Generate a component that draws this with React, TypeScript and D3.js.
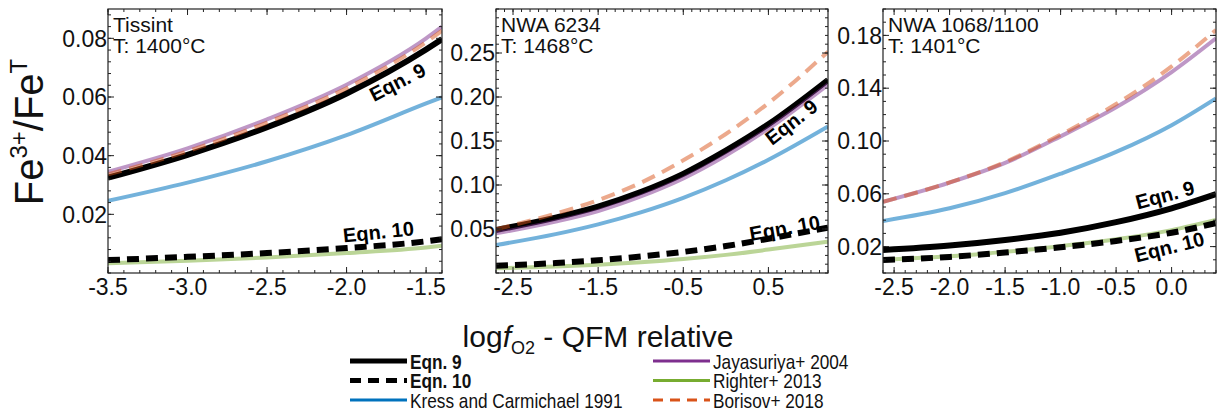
import React from 'react';
import * as d3 from 'd3';

// ---------- data ----------
const panelNames = ['Tissint', 'NWA 6234', 'NWA 1068/1100'];
const panelTemps = ['T: 1400°C', 'T: 1468°C', 'T: 1401°C'];

const xDomains = [[-3.5, -1.4], [-2.7, 1.2], [-2.6, 0.4]];
const yDomains = [[0, 0.09], [0, 0.3], [0, 0.2]];
const xTickLabels = [
  [-3.5, -3.0, -2.5, -2.0, -1.5],
  [-2.5, -1.5, -0.5, 0.5],
  [-2.5, -2.0, -1.5, -1.0, -0.5, 0.0],
];
const yTickLabels = [
  [0.02, 0.04, 0.06, 0.08],
  [0.05, 0.1, 0.15, 0.2, 0.25],
  [0.02, 0.06, 0.1, 0.14, 0.18],
];
const yMinorStep = [0.004, 0.01, 0.01];
const xMinorStep = [0.1, 0.1, 0.1];

// Tissint
const xTissint = [-3.5, -3.0, -2.5, -2.0, -1.5, -1.4];
const eqn9Tissint = [0.0325, 0.0403, 0.0497, 0.0612, 0.0762, 0.0797];
const eqn10Tissint = [0.0044, 0.0055, 0.0068, 0.0085, 0.0108, 0.0115];
const kressTissint = [0.0246, 0.0308, 0.0381, 0.047, 0.0578, 0.0599];
const jayaTissint = [0.0345, 0.0425, 0.0524, 0.0642, 0.08, 0.084];
const righterTissint = [0.0033, 0.0042, 0.0053, 0.0068, 0.0087, 0.0093];
const borisovTissint = [0.0336, 0.0415, 0.0513, 0.063, 0.0787, 0.0826];

// NWA 6234
const xNwa6234 = [-2.7, -2.0, -1.5, -1.0, -0.5, 0.0, 0.5, 1.2];
const eqn9Nwa6234 = [0.0489, 0.063, 0.0755, 0.092, 0.1127, 0.139, 0.169, 0.2193];
const eqn10Nwa6234 = [0.0083, 0.0113, 0.0145, 0.0187, 0.024, 0.0306, 0.039, 0.0515];
const kressNwa6234 = [0.0318, 0.0442, 0.0553, 0.0689, 0.0854, 0.1054, 0.1287, 0.1665];
const jayaNwa6234 = [0.045, 0.0585, 0.0705, 0.087, 0.1075, 0.1335, 0.164, 0.214];
const righterNwa6234 = [0.0053, 0.0073, 0.0093, 0.0121, 0.0158, 0.0206, 0.0266, 0.0356];
const borisovNwa6234 = [0.0496, 0.0675, 0.0828, 0.1025, 0.128, 0.158, 0.193, 0.2515];

// NWA 1068/1100
const xNwa1068 = [-2.6, -2.0, -1.5, -1.0, -0.5, 0.0, 0.4];
const eqn9Nwa1068 = [0.0174, 0.0208, 0.025, 0.0305, 0.0385, 0.049, 0.0598];
const eqn10Nwa1068 = [0.0098, 0.0122, 0.0155, 0.0195, 0.0243, 0.0305, 0.0378];
const kressNwa1068 = [0.0394, 0.049, 0.0605, 0.0752, 0.0917, 0.112, 0.1323];
const jayaNwa1068 = [0.054, 0.0685, 0.0834, 0.1035, 0.1255, 0.1522, 0.1778];
const righterNwa1068 = [0.01, 0.0126, 0.016, 0.0203, 0.0255, 0.0325, 0.0402];
const borisovNwa1068 = [0.054, 0.0686, 0.084, 0.1048, 0.128, 0.1565, 0.1841];

// label anchors (data coords) and angles for in-plot "Eqn." labels
const eqn9LabelAt = [[-1.68, 0.0651, -27], [0.77, 0.1716, -38], [-0.06, 0.0591, -15]];
const eqn10LabelAt = [[-1.8, 0.014, -6], [0.69, 0.0511, -10], [-0.02, 0.0197, -14]];

const seriesKeys = ['kress', 'righter', 'eqn9', 'jaya', 'borisov', 'eqn10'];
const legendLeft = [
  { key: 'eqn9', label: 'Eqn. 9', bold: true },
  { key: 'eqn10', label: 'Eqn. 10', bold: true },
  { key: 'kress', label: 'Kress and Carmichael 1991', bold: false },
];
const legendRight = [
  { key: 'jaya', label: 'Jayasuriya+ 2004', bold: false },
  { key: 'righter', label: 'Righter+ 2013', bold: false },
  { key: 'borisov', label: 'Borisov+ 2018', bold: false },
];

const panelsData = [
  { x: xTissint, eqn9: eqn9Tissint, eqn10: eqn10Tissint, kress: kressTissint, jaya: jayaTissint, righter: righterTissint, borisov: borisovTissint },
  { x: xNwa6234, eqn9: eqn9Nwa6234, eqn10: eqn10Nwa6234, kress: kressNwa6234, jaya: jayaNwa6234, righter: righterNwa6234, borisov: borisovNwa6234 },
  { x: xNwa1068, eqn9: eqn9Nwa1068, eqn10: eqn10Nwa1068, kress: kressNwa1068, jaya: jayaNwa1068, righter: righterNwa1068, borisov: borisovNwa1068 },
];

// ---------- styles ----------
const styles: Record<string, any> = {
  eqn9: { color: '#000', width: 6, dash: null, opacity: 1, lw: 5, ldash: null },
  eqn10: { color: '#000', width: 6, dash: '12 7', opacity: 1, lw: 5, ldash: '11 7' },
  kress: { color: '#0072BD', width: 4, dash: null, opacity: 0.55, lw: 3, ldash: null },
  jaya: { color: '#7E2F8E', width: 4, dash: null, opacity: 0.5, lw: 3, ldash: null },
  righter: { color: '#77AC30', width: 4, dash: null, opacity: 0.5, lw: 3, ldash: null },
  borisov: { color: '#D95319', width: 4, dash: '14 8', opacity: 0.5, lw: 3, ldash: '10 7' },
};

const frames = [
  { left: 108, right: 442 },
  { left: 496, right: 828 },
  { left: 883, right: 1216 },
];
const TOP = 9;
const BOTTOM = 273;
const FONT = 'Liberation Sans, Arial, Helvetica, sans-serif';
const LEGEND_SIZE = 21;
const NARROW_FACTOR = 0.82;

let measureCtx: CanvasRenderingContext2D | null = null;
function narrowWidth(label: string, bold: boolean) {
  if (!measureCtx) {
    const c = document.createElement('canvas');
    measureCtx = c.getContext('2d');
  }
  if (!measureCtx) return label.length * LEGEND_SIZE * 0.45;
  measureCtx.font = `${bold ? 'bold ' : ''}${LEGEND_SIZE}px "Liberation Sans", Arial, sans-serif`;
  return measureCtx.measureText(label).width * NARROW_FACTOR;
}

function fmt(v: number, d: number) {
  const s = Math.abs(v).toFixed(d);
  return (v < -1e-9 ? '-' : '') + s;
}

function Panel({ i }: { i: number }) {
  const f = frames[i];
  const xs = d3.scaleLinear().domain(xDomains[i]).range([f.left, f.right]);
  const ys = d3.scaleLinear().domain(yDomains[i]).range([BOTTOM, TOP]);
  const data = panelsData[i] as any;
  const clipId = `clip${i}`;
  const eps = 1e-9;
  const xMinor = d3.range(Math.ceil(xDomains[i][0] / xMinorStep[i] - eps), Math.floor(xDomains[i][1] / xMinorStep[i] + eps) + 1).map((k) => k * xMinorStep[i]);
  const yMinor = d3.range(Math.ceil(yDomains[i][0] / yMinorStep[i] - eps), Math.floor(yDomains[i][1] / yMinorStep[i] + eps) + 1).map((k) => k * yMinorStep[i]);
  const major = 6;
  const minor = 3;
  const tickStroke = '#222';

  return (
    <g>
      <defs>
        <clipPath id={clipId}>
          <rect x={f.left} y={TOP} width={f.right - f.left} height={BOTTOM - TOP} />
        </clipPath>
      </defs>
      <g clipPath={`url(#${clipId})`}>
        {seriesKeys.map((k) => {
          const st = styles[k];
          const pts: [number, number][] = data.x.map((xv: number, j: number) => [xv, data[k][j]]);
          const line = d3
            .line<[number, number]>()
            .x((d) => xs(d[0]))
            .y((d) => ys(d[1]))
            .curve(d3.curveMonotoneX);
          return (
            <path
              key={k}
              d={line(pts) || ''}
              fill="none"
              stroke={st.color}
              strokeOpacity={st.opacity}
              strokeWidth={st.width}
              strokeDasharray={st.dash || undefined}
            />
          );
        })}
      </g>
      <rect x={f.left} y={TOP} width={f.right - f.left} height={BOTTOM - TOP} fill="none" stroke="#222" strokeWidth={1.2} />
      {xMinor.map((v, j) => (
        <g key={'xm' + j}>
          <line x1={xs(v)} x2={xs(v)} y1={BOTTOM} y2={BOTTOM - minor} stroke={tickStroke} />
          <line x1={xs(v)} x2={xs(v)} y1={TOP} y2={TOP + minor} stroke={tickStroke} />
        </g>
      ))}
      {xTickLabels[i].map((v, j) => (
        <g key={'xM' + j}>
          <line x1={xs(v)} x2={xs(v)} y1={BOTTOM} y2={BOTTOM - major} stroke={tickStroke} />
          <line x1={xs(v)} x2={xs(v)} y1={TOP} y2={TOP + major} stroke={tickStroke} />
          <text x={xs(v)} y={295} textAnchor="middle" fontSize={23} fontFamily={FONT} fill="#111">
            {fmt(v, 1)}
          </text>
        </g>
      ))}
      {yMinor.map((v, j) => (
        <g key={'ym' + j}>
          <line x1={f.left} x2={f.left + minor} y1={ys(v)} y2={ys(v)} stroke={tickStroke} />
          <line x1={f.right} x2={f.right - minor} y1={ys(v)} y2={ys(v)} stroke={tickStroke} />
        </g>
      ))}
      {yTickLabels[i].map((v, j) => (
        <g key={'yM' + j}>
          <line x1={f.left} x2={f.left + major} y1={ys(v)} y2={ys(v)} stroke={tickStroke} />
          <line x1={f.right} x2={f.right - major} y1={ys(v)} y2={ys(v)} stroke={tickStroke} />
          <text x={f.left - 1} y={ys(v)} dy="0.36em" textAnchor="end" fontSize={23} fontFamily={FONT} fill="#111">
            {fmt(v, 2)}
          </text>
        </g>
      ))}
      <text x={f.left + 5} y={32} fontSize={21} fontFamily={FONT} fill="#111">
        {panelNames[i]}
      </text>
      <text x={f.left + 5} y={53} fontSize={21} fontFamily={FONT} fill="#111">
        {panelTemps[i]}
      </text>
      {[eqn9LabelAt[i], eqn10LabelAt[i]].map((a, j) => (
        <text
          key={'lab' + j}
          transform={`translate(${xs(a[0])},${ys(a[1])}) rotate(${a[2]})`}
          dy="0.35em"
          textAnchor="middle"
          fontSize={20}
          fontWeight="bold"
          fontFamily={FONT}
          fill="#000"
        >
          {j === 0 ? 'Eqn. 9' : 'Eqn. 10'}
        </text>
      ))}
    </g>
  );
}

function LegendCol({ items, x1, x2, tx }: { items: any[]; x1: number; x2: number; tx: number }) {
  const rowY = [361, 380.5, 400];
  return (
    <g>
      {items.map((it, j) => {
        const st = styles[it.key];
        return (
          <g key={it.key}>
            <line x1={x1} x2={x2} y1={rowY[j]} y2={rowY[j]} stroke={st.color} strokeWidth={st.lw} strokeDasharray={st.ldash || undefined} />
            <text
              x={tx}
              y={rowY[j]}
              dy="0.36em"
              fontSize={LEGEND_SIZE}
              fontFamily={FONT}
              fontWeight={it.bold ? 'bold' : 'normal'}
              textLength={narrowWidth(it.label, it.bold)}
              lengthAdjust="spacingAndGlyphs"
              fill="#111"
            >
              {it.label}
            </text>
          </g>
        );
      })}
    </g>
  );
}

export default function App() {
  return (
    <svg width={1218} height={414} style={{ position: 'absolute', left: 0, top: 0, background: '#fff' }}>
      <rect x={0} y={0} width={1218} height={414} fill="#fff" />
      {[0, 1, 2].map((i) => (
        <Panel key={i} i={i} />
      ))}
      <text transform="translate(43,132) rotate(-90)" textAnchor="middle" fontSize={40} fontFamily={FONT} fill="#111">
        Fe
        <tspan dy={-16} fontSize={24}>3+</tspan>
        <tspan dy={16}>/Fe</tspan>
        <tspan dy={-16} fontSize={24}>T</tspan>
      </text>
      <text x={598} y={347} textAnchor="middle" fontSize={30} fontFamily={FONT} fill="#111">
        log<tspan fontStyle="italic">f</tspan>
        <tspan dy={7} fontSize={18}>O2</tspan>
        <tspan dy={-7}> - QFM relative</tspan>
      </text>
      <LegendCol items={legendLeft} x1={350} x2={407} tx={410} />
      <LegendCol items={legendRight} x1={653} x2={710} tx={713} />
    </svg>
  );
}
